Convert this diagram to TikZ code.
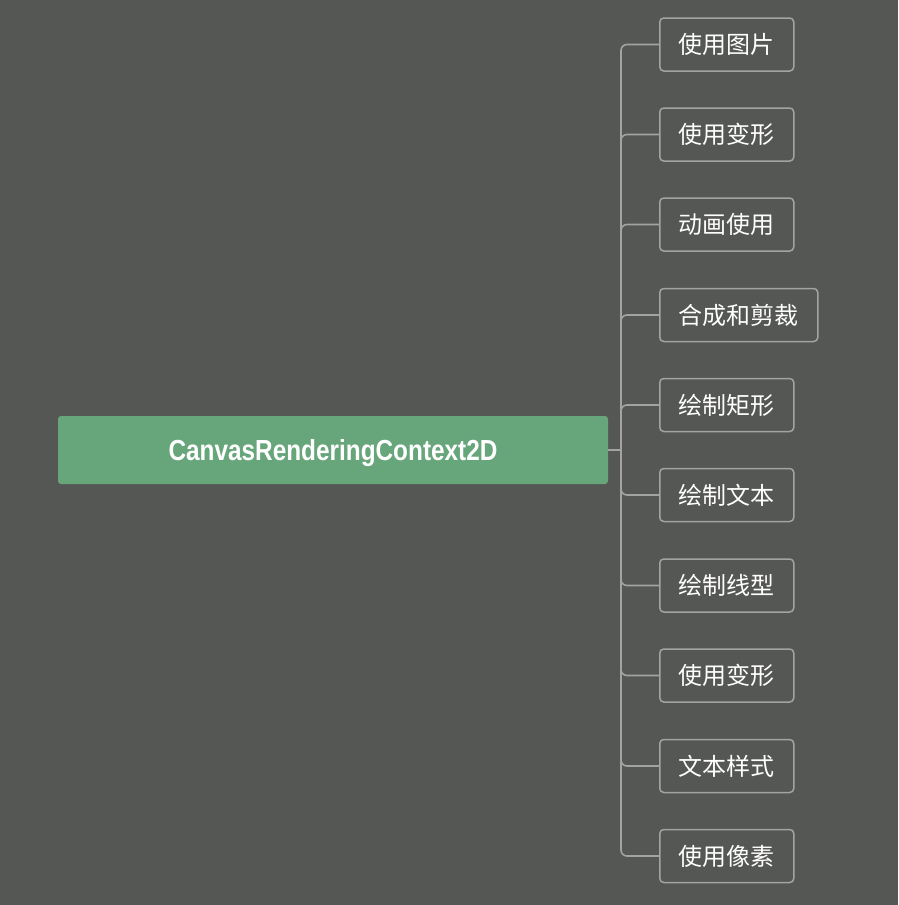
\documentclass[tikz,border=0pt]{standalone}
\usepackage{fontspec}
\newfontfamily\cjk{Noto Sans CJK SC}
\newfontfamily\rootfont{Liberation Sans}[FakeStretch=0.84]
\definecolor{bgGray}{HTML}{555754}
\definecolor{rootGreen}{HTML}{67A57B}
\definecolor{lineGray}{HTML}{A3A4A1}

\begin{document}
\begin{tikzpicture}
[x=1pt, y=1pt,
 every node/.style={inner sep=0pt},
 topic/.style={rectangle, rounded corners=3pt, fill=rootGreen, minimum width=550pt, minimum height=68pt, text depth=0pt, text=white, font=\rootfont\bfseries\fontsize{29}{32}\selectfont},
 leaf/.style={rectangle, rounded corners=4pt, draw=lineGray, line width=1.5pt, fill=bgGray, anchor=west, minimum width=134pt, minimum height=53pt, inner xsep=19pt, text=white, font=\cjk\fontsize{24}{27}\selectfont},
 branch/.style={draw=lineGray, line width=1.6pt, rounded corners=6pt}]
\fill [bgGray] (0,0) rectangle (898,-905);
\useasboundingbox (0,0) rectangle (898,-905);
\node (root) [topic] at (333, -450) {CanvasRenderingContext2D};
\coordinate (trunk) at (621, -450);
\node (n1) [leaf] at (659, -44.5) {使用图片};
\node (n2) [leaf] at (659, -134.5) {使用变形};
\node (n3) [leaf] at (659, -224.5) {动画使用};
\node (n4) [leaf] at (659, -315) {合成和剪裁};
\node (n5) [leaf] at (659, -405) {绘制矩形};
\node (n6) [leaf] at (659, -495) {绘制文本};
\node (n7) [leaf] at (659, -585.5) {绘制线型};
\node (n8) [leaf] at (659, -675.5) {使用变形};
\node (n9) [leaf] at (659, -766) {文本样式};
\node (n10) [leaf] at (659, -856) {使用像素};
\draw [branch] (root.east) -- (trunk);
\foreach \n in {n1,n2,n3,n4,n5,n6,n7,n8,n9,n10}
  \draw [branch] (trunk) |- (\n.west);
\end{tikzpicture}
\end{document}
